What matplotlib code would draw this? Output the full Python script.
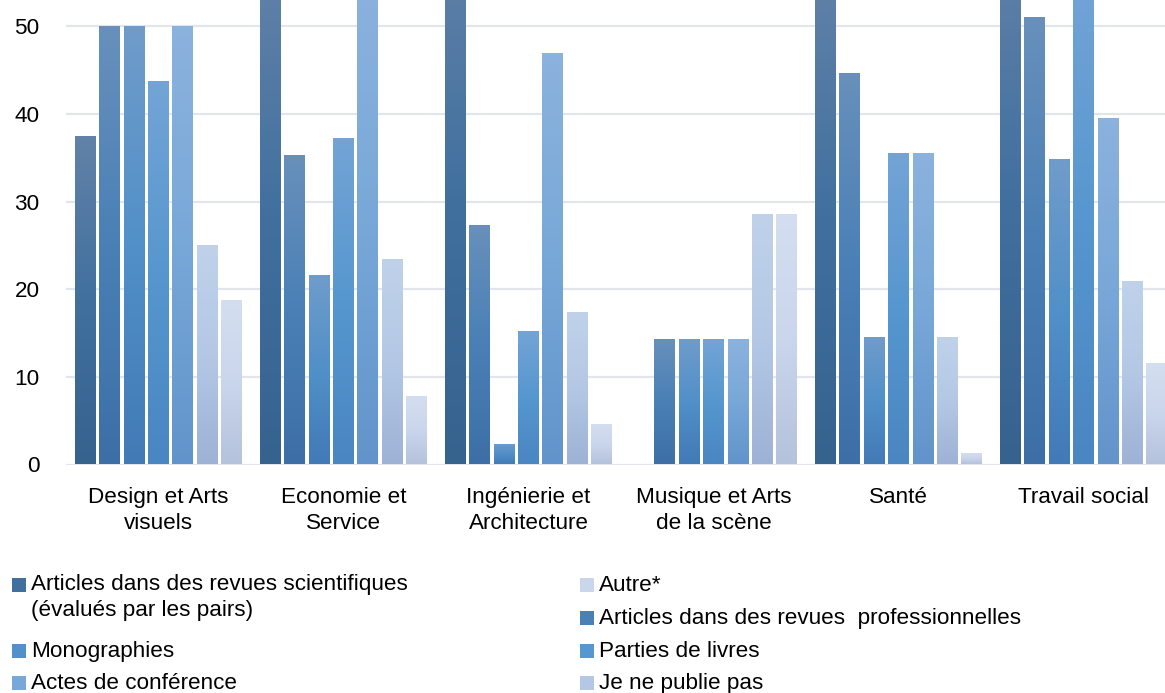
import numpy as np
import matplotlib
matplotlib.use("Agg")
import matplotlib.pyplot as plt
from matplotlib.colors import LinearSegmentedColormap
from matplotlib.patches import Rectangle

plt.rcParams['font.family'] = ['Liberation Sans', 'DejaVu Sans']

categories = ["Design et Arts\nvisuels", "Economie et\nService", "Ingénierie et\nArchitecture",
              "Musique et Arts\nde la scène", "Santé", "Travail social"]

series_names = [
    "Articles dans des revues scientifiques\n(évalués par les pairs)",
    "Articles dans des revues  professionnelles",
    "Monographies",
    "Parties de livres",
    "Actes de conférence",
    "Je ne publie pas",
    "Autre*",
]

art_sci = [37.5, 56.9, 60.9, 0.0, 56.5, 60.5]
art_pro = [50.0, 35.3, 27.3, 14.3, 44.7, 51.1]
monographies = [50.0, 21.6, 2.3, 14.3, 14.5, 34.9]
parties = [43.75, 37.2, 15.2, 14.3, 35.5, 55.8]
actes = [50.0, 54.9, 47.0, 14.3, 35.5, 39.5]
ne_publie_pas = [25.0, 23.5, 17.4, 28.6, 14.5, 20.9]
autre = [18.75, 7.8, 4.6, 28.6, 1.3, 11.6]

series_values = [art_sci, art_pro, monographies, parties, actes, ne_publie_pas, autre]

# bottom, middle, top colours of the vertical gradient in each series
gradients = [
    ("#36628e", "#41709f", "#6282a8"),
    ("#3d6fa6", "#4a80b6", "#6890bb"),
    ("#427ab6", "#5190c8", "#709ccb"),
    ("#4a86c2", "#5697cf", "#74a4d6"),
    ("#6294cb", "#78a8d8", "#8cb2de"),
    ("#9db2d5", "#b4c8e6", "#c0d2ea"),
    ("#b5c2dc", "#cad6ec", "#d4def0"),
]

FS = 16.2

fig = plt.figure(figsize=(11.65, 6.93), dpi=100)
ax = fig.add_axes([66 / 1165, 1 - 464.5 / 693, 1 - 66 / 1165, 464.5 / 693])

x = np.arange(len(categories))
slot = 0.1319
width = 0.113
grad = np.linspace(0, 1, 256).reshape(-1, 1)

for i, (vals, cols) in enumerate(zip(series_values, gradients)):
    cmap = LinearSegmentedColormap.from_list("g%d" % i, cols)
    bars = ax.bar(x + (i - 3) * slot, vals, width=width, color="none", edgecolor="none", zorder=3)
    for b in bars:
        if b.get_height() <= 0:
            continue
        im = ax.imshow(grad, cmap=cmap, origin="lower", aspect="auto", zorder=3,
                       extent=[b.get_x(), b.get_x() + b.get_width(), 0, b.get_height()])
        im.set_clip_path(b)

ax.set_xlim(-0.5, 5.44)
ax.set_ylim(0, 53)
ax.set_yticks([0, 10, 20, 30, 40, 50])
ax.set_xticks(x)
ax.set_xticklabels(categories, fontsize=FS, linespacing=1.3)
ax.tick_params(axis="y", length=0, pad=19, labelsize=FS)
ax.tick_params(axis="x", length=0, pad=16)
ax.grid(axis="y", color="#e2e6ec", linewidth=1.6, zorder=0)
for s in ax.spines.values():
    s.set_visible(False)

# legend, laid out as in the original: (x of square, baseline y of first line), in pixels
legend_pos = [
    (12, 591), (580, 624), (12, 657), (580, 657), (12, 689), (580, 689), (580, 591),
]
for (px, py), name, cols in zip(legend_pos, series_names, gradients):
    fig.patches.append(Rectangle((px / 1165, 1 - (py + 1) / 693), 14 / 1165, 14 / 693,
                                 transform=fig.transFigure, facecolor=cols[1], edgecolor="none"))
    extra = 25 * name.count("\n")
    fig.text((px + 19) / 1165, 1 - (py + extra) / 693, name, fontsize=FS, va="baseline",
             ha="left", linespacing=1.3)

fig.savefig("out.png", dpi=100)
